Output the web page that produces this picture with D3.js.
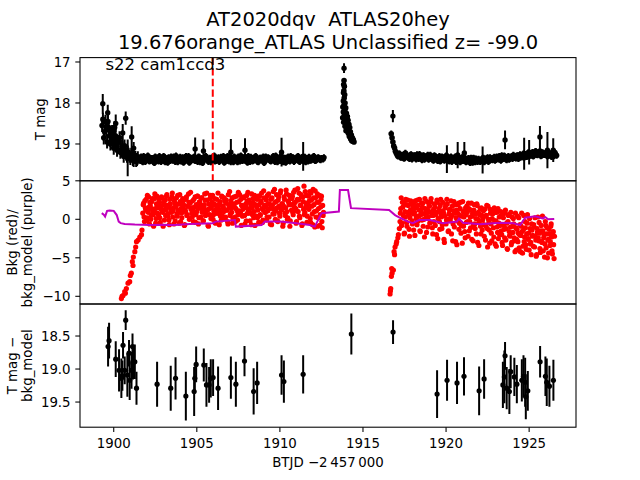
<!DOCTYPE html>
<html><head><meta charset="utf-8">
<script src="https://cdn.jsdelivr.net/npm/d3@7"></script>
<style>
body{margin:0;background:#fff;}
text{font-family:"DejaVu Sans",sans-serif;fill:#000;}
</style></head>
<body><svg id="chart" width="640" height="480"></svg>
<script>
// ---------------- DATA ----------------
const titleLines = ["AT2020dqv  ATLAS20hey", "19.676orange_ATLAS Unclassified z= -99.0"];
const sectorLabel = "s22 cam1ccd3";
const xLabel = "BTJD \u22122\u2009457\u2009000";
const xTicks = [1900, 1905, 1910, 1915, 1920, 1925];
const magTicks = [17, 18, 19];
const bkgTicks = [5, 0, -5, -10];
const diffTicks = [18.5, 19.0, 19.5];
const markerTime = 1905.96;

// T mag light curve, fixed cadence (two interleaved runs)
const tmagStep = 0.1;
const tmagSeg1Start = 1899.3;
const tmagSeg1 = [
 18.55,18.85,18.45,18.95,18.60,19.00,18.70,19.10,18.80,19.15,18.95,19.20,19.05,19.30,19.15,19.30,19.25,19.35,19.30,19.40,19.33,19.38,
 19.33,19.41,19.36,19.30,19.43,19.38,19.32,19.40,19.35,19.44,
 19.31,19.37,19.42,19.34,19.39,19.30,19.44,19.36,19.33,19.41,
 19.38,19.31,19.43,19.35,19.40,19.32,19.37,19.45,19.34,19.39,
 19.30,19.42,19.36,19.33,19.41,19.38,19.31,19.44,19.35,19.40,
 19.32,19.37,19.43,19.34,19.39,19.31,19.42,19.36,19.33,19.40,
 19.37,19.30,19.43,19.35,19.41,19.32,19.38,19.44,19.34,19.39,
 19.31,19.42,19.36,19.33,19.40,19.38,19.30,19.43,19.35,19.41,
 19.32,19.37,19.44,19.34,19.39,19.31,19.42,19.36,19.33,19.40,
 19.37,19.30,19.43,19.35,19.41,19.32,19.38,19.44,19.34,19.39,
 19.31,19.42,19.36,19.33,19.40,19.38,19.30,19.43,19.35,19.41,
 19.32,19.37,19.42,19.34,19.39,19.31,19.40,19.36,19.33,19.38,
 19.35,19.37];
const tmagSeg1bStart = 1899.35;
const tmagSeg1b = [
 18.40,18.70,18.65,18.45,18.80,18.75,18.90,18.60,19.00,18.95,18.85,19.15,19.10,19.05,19.25,19.20,19.30,19.25,19.38,19.32,19.40,19.34,
 19.36,19.31,19.44,19.38,19.33,19.29,19.42,19.35,19.40,19.46,
 19.34,19.39,19.30,19.43,19.37,19.32,19.41,19.45,19.36,19.31,
 19.40,19.35,19.29,19.44,19.38,19.42,19.33,19.36,19.30,19.41,
 19.45,19.34,19.39,19.31,19.37,19.43,19.32,19.38,19.46,19.35,
 19.30,19.40,19.36,19.44,19.33,19.29,19.41,19.37,19.43,19.32,
 19.39,19.45,19.34,19.30,19.42,19.36,19.40,19.31,19.38,19.44,
 19.35,19.29,19.41,19.37,19.33,19.45,19.39,19.32,19.42,19.36,
 19.30,19.43,19.38,19.34,19.40,19.46,19.31,19.37,19.35,19.42,
 19.39,19.33,19.29,19.44,19.36,19.41,19.32,19.38,19.45,19.34,
 19.40,19.30,19.37,19.43,19.35,19.31,19.42,19.39,19.33,19.36,
 19.44,19.38,19.32,19.40,19.35,19.30,19.41,19.37,19.34,19.39,
 19.36,19.33];
const tmagEarlyCount = 22;
const tmagErrEarly = 0.16;
const tmagErr = 0.08;
const tmagSeg2Start = 1916.7;
const tmagSeg2 = [
 18.75,18.95,19.10,19.22,
 19.30,19.24,19.33,19.27,19.35,19.25,19.31,19.36,19.26,19.32,
 19.28,19.37,19.30,19.25,19.34,19.29,19.38,19.31,19.27,19.36,
 19.32,19.39,19.28,19.35,19.41,19.30,19.37,19.33,19.40,19.29,
 19.36,19.42,19.31,19.38,19.34,19.43,19.32,19.39,19.35,19.41,
 19.33,19.44,19.37,19.40,19.34,19.45,19.38,19.36,19.43,19.39,
 19.42,19.35,19.44,19.37,19.33,19.41,19.36,19.39,19.32,19.38,
 19.34,19.30,19.40,19.35,19.29,19.37,19.33,19.38,19.31,19.36,
 19.30,19.35,19.28,19.34,19.31,19.27,19.33,19.25,19.30,19.22,
 19.28,19.20,19.25,19.18,19.27,19.22,19.29,19.21,19.26,19.23,
 19.30,19.24,19.28,19.22,19.29,19.26];
const tmagSeg2bStart = 1916.75;
const tmagSeg2b = [
 18.85,19.05,19.18,19.26,
 19.24,19.32,19.28,19.35,19.22,19.30,19.34,19.27,19.37,19.29,
 19.33,19.26,19.36,19.30,19.39,19.28,19.34,19.31,19.38,19.27,
 19.35,19.40,19.30,19.37,19.33,19.42,19.31,19.38,19.35,19.29,
 19.40,19.34,19.43,19.36,19.31,19.41,19.38,19.44,19.33,19.39,
 19.37,19.42,19.35,19.46,19.39,19.34,19.44,19.40,19.37,19.43,
 19.39,19.34,19.41,19.36,19.43,19.33,19.38,19.35,19.40,19.31,
 19.37,19.33,19.28,19.36,19.31,19.39,19.30,19.35,19.32,19.27,
 19.33,19.29,19.36,19.26,19.32,19.24,19.29,19.31,19.21,19.27,
 19.24,19.30,19.19,19.26,19.23,19.17,19.28,19.22,19.25,19.20,
 19.27,19.23,19.31,19.25,19.21,19.28];
// flare-like cluster near 1914 [time, mag]
const tmagFlare = [
 [1913.86,17.45],[1913.84,17.55],[1913.88,17.60],[1913.85,17.70],[1913.83,17.75],[1913.90,17.80],
 [1913.87,17.88],[1913.82,17.95],[1913.92,18.00],[1913.86,18.05],[1913.79,18.10],[1913.96,18.12],
 [1913.90,18.18],[1913.82,18.22],[1914.00,18.25],[1913.88,18.30],[1914.06,18.33],[1913.78,18.36],
 [1913.95,18.40],[1914.10,18.42],[1913.84,18.47],[1914.02,18.50],[1914.15,18.52],[1913.92,18.57],
 [1914.20,18.60],[1914.05,18.63],[1913.98,18.68],[1914.24,18.70],[1914.12,18.74],[1914.30,18.78],
 [1914.18,18.82],[1914.36,18.85],[1914.26,18.88],[1914.42,18.90],[1914.33,18.93],[1914.46,18.95]];
// points with visible error bars [time, mag, err]
const tmagOutliers = [
 [1899.34,18.02,0.24],[1899.64,18.24,0.20],[1900.12,18.50,0.22],[1900.54,18.73,0.22],[1900.72,18.37,0.16],
 [1900.84,19.34,0.45],[1901.08,18.83,0.26],[1901.20,19.10,0.15],[1904.90,19.12,0.28],[1905.40,19.17,0.28],
 [1907.05,19.20,0.32],[1907.90,19.15,0.29],[1910.10,19.20,0.35],[1911.40,19.30,0.35],[1913.86,17.15,0.12],
 [1916.80,18.32,0.15],[1920.05,19.37,0.34],[1920.70,19.27,0.32],[1921.10,19.22,0.27],[1922.20,19.39,0.33],
 [1923.55,18.90,0.23],[1924.70,19.24,0.39],[1925.00,19.20,0.30],[1925.65,18.83,0.27],[1926.10,19.15,0.44],
 [1926.45,19.15,0.29]];

// Background (red points)
const bkgRise1 = [
 [1900.46,-10.3],[1900.50,-10.0],[1900.56,-9.9],[1900.66,-9.4],[1900.70,-9.6],[1900.76,-9.0],[1900.86,-8.3],
 [1900.96,-8.1],[1901.00,-7.3],[1901.06,-7.0],[1901.12,-5.5],[1901.16,-6.0],[1901.18,-4.9],[1901.27,-4.2],
 [1901.32,-3.6],[1901.37,-2.9],[1901.47,-2.7],[1901.57,-2.3],[1901.67,-2.0],[1901.70,-1.4]];
const bkgStep = 0.05;
const bkgCloud1Start = 1901.75;
const bkgCloud1 = [
 0.8,2.1,-0.3,1.5,2.6,0.2,1.1,2.9,-0.6,1.8,0.5,2.3,1.0,-0.9,2.7,1.4,0.1,3.0,1.7,0.6,
 2.2,-0.4,1.3,2.8,0.9,1.9,-0.1,2.5,1.2,3.2,0.4,1.6,-0.7,2.0,1.0,2.9,0.3,1.5,2.4,-0.2,
 1.8,0.7,3.1,1.1,-0.5,2.3,1.4,0.2,2.7,1.9,-0.8,1.2,2.6,0.5,1.7,3.3,0.0,2.1,1.3,0.8,
 2.4,-0.3,1.6,2.9,0.6,1.0,3.0,-0.6,2.2,1.5,0.3,2.8,1.1,-0.2,1.9,2.5,0.9,3.4,1.2,-0.9,
 1.4,2.7,0.1,1.8,3.1,0.6,2.0,-0.4,1.3,2.6,0.8,1.7,-0.7,2.3,1.0,3.0,0.4,1.5,2.8,0.2,
 2.1,1.2,-0.3,3.2,1.6,0.5,2.4,0.9,-0.5,1.9,2.9,0.3,1.4,2.2,-0.1,3.5,1.1,0.7,2.6,1.8,
 0.4,2.8,1.5,-0.6,2.0,3.1,0.8,1.3,2.5,-0.2,1.7,3.3,0.6,2.1,1.0,-0.8,2.7,1.6,0.2,3.0,
 1.9,0.5,2.4,3.4,-0.4,1.2,2.8,0.9,1.6,-0.1,3.1,2.0,0.3,1.4,2.6,-0.7,1.8,3.6,0.7,2.2,
 1.1,3.2,-0.2,2.5,1.7,0.4,3.7,1.3,2.0,-0.5,2.9,0.8,1.5,3.3,0.0,2.3,1.9,-0.9,2.7,1.2,
 3.0,0.6,2.1,3.8,1.4,-0.3,2.6,1.0,3.4,0.2,1.8,2.9,-0.6,2.3,4.3,0.9,1.6,3.1,0.4,2.0,
 1.3,3.6,-0.4,2.5,0.7,3.9,1.9,-1.0,2.8,1.1,3.3,0.2,2.2,-0.8,1.6,3.0,-1.1,0.5];
const bkgCloud1bStart = 1901.775;
const bkgCloud1b = [
 1.9,0.3,2.4,1.2,-0.2,3.1,0.9,1.6,2.2,0.0,1.4,2.7,0.6,1.1,3.3,-0.5,2.0,0.8,1.5,2.5,
 0.2,1.7,2.9,1.0,-0.9,2.3,1.3,0.5,3.0,1.8,0.7,-0.1,2.6,1.4,0.9,3.4,1.1,-0.6,2.1,1.6,
 2.8,0.4,1.2,2.0,3.2,-0.3,0.8,1.9,2.4,1.3,-0.7,1.0,2.9,0.6,1.7,2.2,0.1,3.5,1.5,0.3,
 1.1,2.6,0.7,-0.4,1.9,3.0,1.4,0.2,2.3,1.8,2.8,0.9,-0.2,1.6,3.3,0.5,1.2,2.5,-0.8,2.0,
 0.6,3.1,1.5,2.2,0.0,1.1,2.7,-0.5,1.8,0.8,3.4,1.3,2.1,0.4,-0.1,2.9,1.7,1.0,2.4,0.3,
 2.5,1.2,-0.6,1.9,3.6,0.7,1.4,2.8,0.1,2.0,1.6,-0.3,3.0,1.1,0.6,2.3,3.2,0.9,-0.8,1.8,
 1.3,2.9,0.5,1.7,-0.2,2.4,3.5,0.8,1.0,2.1,-0.7,1.5,2.7,0.2,3.1,1.9,0.4,2.6,1.2,-0.4,
 3.0,0.6,2.2,1.4,-0.1,3.7,1.8,0.9,2.5,0.3,1.1,3.3,2.0,-0.6,1.6,2.8,0.7,1.3,3.9,0.0,
 2.3,1.5,-0.3,2.9,0.8,3.4,1.2,2.0,-0.9,1.7,2.6,0.5,3.8,1.0,0.2,2.4,3.1,-0.2,1.9,2.7,
 0.9,3.5,1.6,2.2,-0.5,1.1,4.0,2.5,0.4,1.8,3.2,-0.8,2.9,1.3,0.6,3.6,2.1,-0.4,1.5,3.0,
 2.4,0.1,3.4,1.7,-0.7,2.8,1.0,3.7,0.3,2.2,-0.9,1.4,3.1,0.6,2.6,-0.3,1.8,0.9];
const bkgRise2 = [
 [1916.63,-9.7],[1916.65,-9.3],[1916.67,-9.0],[1916.71,-7.4],[1916.73,-6.4],[1916.75,-7.0],[1916.83,-6.6],
 [1916.87,-4.2],[1916.90,-4.6],[1916.93,-3.6],[1917.00,-3.2],[1917.03,-2.9],[1917.10,-2.4],[1917.13,-2.0],
 [1917.19,-1.2],[1917.23,-0.3]];
const bkgCloud2Start = 1917.25;
const bkgCloud2 = [
 0.8,2.8,-0.5,1.6,2.2,-1.8,0.3,1.9,-0.9,2.5,0.6,-2.2,1.2,2.0,-0.2,1.5,-1.4,0.9,2.4,0.1,
 -0.7,1.8,0.4,2.6,-1.6,1.1,-0.1,2.1,0.7,-2.3,1.4,0.2,2.3,-1.0,0.9,1.7,-0.4,2.7,0.5,-1.9,
 1.3,2.0,-0.8,0.6,2.5,-2.5,1.0,-0.3,1.8,0.3,-1.2,2.2,0.8,-3.0,1.5,-0.6,2.6,0.0,-1.5,1.2,
 -0.2,2.4,0.5,-2.8,1.1,-1.0,1.9,0.2,-3.3,0.8,2.1,-0.5,1.4,-1.8,0.4,2.3,-0.9,1.0,-2.4,0.6,
 1.7,-0.3,2.1,-1.5,0.3,1.2,-2.6,0.8,-0.7,1.9,-1.2,0.1,2.0,-3.0,0.9,-0.4,1.4,-1.9,0.5,-0.1,
 1.1,-2.2,0.4,-0.9,1.8,-3.6,0.0,-1.4,1.3,-0.6,-2.8,0.7,-1.1,1.5,-3.2,-0.2,0.9,-1.7,-2.5,0.3,
 -0.8,1.0,-2.0,-3.4,0.2,-1.3,0.8,-2.7,-0.5,-3.9,0.5,-1.6,-2.2,0.9,-3.0,-0.9,0.1,-2.4,-4.2,-1.1,
 -2.6,0.4,-1.8,-3.7,-0.7,-2.1,0.8,-4.4,-1.4,-2.9,-0.3,-3.3,-1.9,0.6,-2.5,-4.0,-1.2,-3.0,-0.6,-2.2,
 -3.5,-1.0,0.2,-2.7,-4.6,-1.7,-2.4,-0.4,-3.8,-1.5,-2.9,0.4,-4.1,-2.0,-3.2,-0.8,-1.9,-5.0,-2.6,-1.3,
 -3.4,-0.9,-2.3,-4.5,-1.6,-5.1];
const bkgCloud2bStart = 1917.275;
const bkgCloud2b = [
 1.4,-0.8,2.2,0.5,-1.9,1.0,2.6,-0.4,0.9,1.8,-1.3,0.2,2.4,1.1,-0.6,0.7,2.0,-2.1,1.5,0.4,
 2.5,-0.2,1.2,-1.5,0.6,2.1,1.6,-0.9,0.0,2.7,0.8,-1.7,1.3,0.3,1.9,-0.5,2.3,1.0,-1.1,0.5,
 -0.3,1.6,0.9,-2.0,2.2,0.1,1.4,-1.3,2.6,0.6,-0.7,1.1,-2.6,0.4,1.8,-0.1,2.0,-1.6,0.7,1.3,
 0.2,-1.9,1.7,-0.6,2.3,0.8,-2.9,1.2,-0.2,1.9,-1.3,0.5,2.2,-0.8,-3.1,1.0,0.3,-1.6,1.5,-0.4,
 0.9,-2.2,1.4,-0.3,-1.1,2.1,0.4,-2.8,1.2,-0.6,0.7,-1.9,1.8,0.0,-3.4,0.6,-0.9,1.5,-1.4,0.2,
 -0.7,1.3,-2.7,0.5,-1.2,1.7,-0.4,-3.1,0.8,-1.8,0.1,1.1,-2.3,-0.2,0.9,-3.5,-1.0,1.4,-0.5,-2.0,
 0.4,-1.5,-3.0,0.7,-0.8,-2.4,1.2,-1.2,-3.8,-0.3,0.6,-2.1,-1.0,-3.3,0.3,-1.7,-0.6,-2.8,0.8,-4.0,
 -1.3,-2.9,0.2,-2.0,-4.2,-0.9,-1.6,-3.5,0.5,-2.3,-1.1,-3.9,-0.5,-2.6,-1.8,0.1,-3.2,-4.6,-1.4,-2.1,
 -0.7,-3.6,-2.2,-4.8,-1.2,0.3,-2.8,-1.8,-4.3,-0.8,-3.0,-1.5,-2.4,-4.9,-0.3,-3.7,-1.1,-2.7,-4.4,-1.9,
 -2.9,-0.6,-4.1,-1.7,-3.3,-2.2];
// Background model (purple line) [time, value]
const bkgModel = [
 [1899.28,0.8],[1899.40,0.6],[1899.48,0.35],[1899.60,1.1],[1899.76,1.15],[1900.00,1.1],[1900.18,0.55],
 [1900.30,-0.3],[1900.42,-0.5],[1900.66,-0.6],[1901.27,-0.68],[1902.17,-0.75],[1902.95,-0.7],[1903.67,-0.75],
 [1904.58,-0.6],[1905.96,-0.5],[1906.14,-0.3],[1907.29,-0.1],[1907.35,-0.95],[1908.90,-0.75],[1909.10,-0.3],
 [1910.00,-0.3],[1911.00,-0.5],[1911.80,-0.75],[1912.10,-0.95],[1912.40,0.35],[1912.51,0.8],[1913.55,1.0],
 [1913.61,3.8],[1914.10,3.8],[1914.28,1.45],[1916.57,1.2],[1916.93,0.55],[1917.23,0.2],[1917.70,-0.3],
 [1918.00,-0.5],[1918.37,-0.1],[1919.04,-0.1],[1919.82,-0.5],[1920.66,-0.3],[1920.78,0.1],[1921.02,-0.45],
 [1922.05,-0.65],[1923.25,-0.45],[1924.04,-0.5],[1924.46,-0.75],[1924.76,0.2],[1925.36,0.4],[1925.84,0.1],
 [1925.96,0.3],[1926.14,0.0],[1926.51,0.05]];

// T mag - bkg_model [time, value, err]
const diffPoints = [
 [1899.66,18.66,0.30],[1899.72,18.57,0.27],[1900.12,18.85,0.27],[1900.32,19.02,0.32],[1900.46,19.14,0.30],
 [1900.56,18.64,0.20],[1900.52,19.10,0.23],[1900.72,18.26,0.15],[1900.66,19.02,0.21],[1900.82,19.09,0.33],
 [1900.92,18.76,0.20],[1900.96,19.17,0.30],[1901.07,19.02,0.28],[1901.13,18.66,0.20],[1901.16,18.91,0.25],
 [1901.27,18.89,0.26],[1901.37,19.29,0.25],[1902.61,19.23,0.34],[1903.43,19.29,0.34],[1903.72,19.14,0.32],
 [1904.34,19.41,0.37],[1904.84,19.34,0.37],[1904.88,19.14,0.18],[1904.96,18.93,0.27],[1905.42,18.94,0.25],
 [1905.58,19.24,0.33],[1905.74,19.24,0.27],[1905.84,19.14,0.29],[1905.98,19.13,0.28],[1906.28,19.29,0.33],
 [1907.05,19.13,0.32],[1907.35,19.23,0.34],[1907.87,18.88,0.23],[1908.42,19.34,0.35],[1908.63,19.21,0.32],
 [1910.10,19.09,0.30],[1910.24,19.19,0.32],[1911.40,19.08,0.29],
 [1914.30,18.47,0.31],[1916.81,18.44,0.18],[1919.46,19.38,0.36],[1920.06,19.17,0.31],[1920.66,19.21,0.32],
 [1921.08,19.11,0.29],[1921.99,19.33,0.37],[1922.29,19.15,0.30],[1923.42,19.24,0.35],[1923.55,18.80,0.21],
 [1923.51,19.12,0.40],[1923.65,19.29,0.32],[1923.81,19.34,0.34],[1923.89,19.04,0.25],[1924.11,19.12,0.29],
 [1924.26,19.23,0.29],[1924.56,19.17,0.32],[1924.66,19.11,0.32],[1924.76,19.20,0.37],[1924.80,19.42,0.34],
 [1924.92,19.33,0.30],[1925.66,18.89,0.24],[1925.98,19.11,0.30],[1926.06,19.20,0.36],[1926.22,19.26,0.31],
 [1926.46,19.17,0.31]];

// ---------------- DRAWING ----------------
const svg = d3.select("#chart");
const L = 80, R = 576, T0 = 57.6, PH = 123.2;
const tops = [T0, T0 + PH, T0 + 2 * PH];
const x = d3.scaleLinear().domain([1897.97, 1927.82]).range([L, R]);
const yMag = d3.scaleLinear().domain([16.893, 19.898]).range([tops[0], tops[0] + PH]);
const yBkg = d3.scaleLinear().domain([5.0, -11.0]).range([tops[1], tops[1] + PH]);
const yDiff = d3.scaleLinear().domain([18.015, 19.881]).range([tops[2], tops[2] + PH]);

const defs = svg.append("defs");
tops.forEach((t, i) => {
  defs.append("clipPath").attr("id", "clip" + i)
    .append("rect").attr("x", L).attr("y", t).attr("width", R - L).attr("height", PH);
});

const regular = (start, step, vals) => vals.map((v, i) => [start + i * step, v]);
function errPoints(g, pts, y, r, color) {
  g.selectAll(null).data(pts).enter().append("line")
    .attr("x1", d => x(d[0])).attr("x2", d => x(d[0]))
    .attr("y1", d => y(d[1] - d[2])).attr("y2", d => y(d[1] + d[2]))
    .attr("stroke", color).attr("stroke-width", 2);
  g.selectAll(null).data(pts).enter().append("circle")
    .attr("cx", d => x(d[0])).attr("cy", d => y(d[1])).attr("r", r).attr("fill", color);
}

// ---- Panel 1: T mag
const g1 = svg.append("g").attr("clip-path", "url(#clip0)");
const withErr = (pts) => pts.map((d, i) => [d[0], d[1], i < tmagEarlyCount ? tmagErrEarly : tmagErr]);
const band = withErr(regular(tmagSeg1Start, tmagStep, tmagSeg1))
  .concat(withErr(regular(tmagSeg1bStart, tmagStep, tmagSeg1b)))
  .concat(regular(tmagSeg2Start, tmagStep, tmagSeg2).map(d => [d[0], d[1], tmagErr]))
  .concat(regular(tmagSeg2bStart, tmagStep, tmagSeg2b).map(d => [d[0], d[1], tmagErr]))
  .concat(tmagFlare.map(d => [d[0], d[1], 0.05]));
errPoints(g1, band, yMag, 2.8, "#000");
errPoints(g1, tmagOutliers, yMag, 2.7, "#000");
g1.append("line").attr("x1", x(markerTime)).attr("x2", x(markerTime))
  .attr("y1", tops[0]).attr("y2", tops[0] + PH)
  .attr("stroke", "#ff0000").attr("stroke-width", 2).attr("stroke-dasharray", "7.4,3.2");

// ---- Panel 2: background
const g2 = svg.append("g").attr("clip-path", "url(#clip1)");
const bkgPts = bkgRise1.concat(regular(bkgCloud1Start, bkgStep, bkgCloud1))
  .concat(regular(bkgCloud1bStart, bkgStep, bkgCloud1b))
  .concat(bkgRise2).concat(regular(bkgCloud2Start, bkgStep, bkgCloud2))
  .concat(regular(bkgCloud2bStart, bkgStep, bkgCloud2b));
g2.selectAll(null).data(bkgPts).enter().append("circle")
  .attr("cx", d => x(d[0])).attr("cy", d => yBkg(d[1])).attr("r", 2.6).attr("fill", "#ff0000");
g2.append("path").datum(bkgModel)
  .attr("d", d3.line().x(d => x(d[0])).y(d => yBkg(d[1])))
  .attr("fill", "none").attr("stroke", "#bf00bf").attr("stroke-width", 2);

// ---- Panel 3: difference
const g3 = svg.append("g").attr("clip-path", "url(#clip2)");
errPoints(g3, diffPoints, yDiff, 2.6, "#000");

// ---- axes frames and ticks
tops.forEach(t => {
  svg.append("rect").attr("x", L).attr("y", t).attr("width", R - L).attr("height", PH)
    .attr("fill", "none").attr("stroke", "#000").attr("stroke-width", 1.07);
});
function yAxis(scale, ticks, fmt) {
  const g = svg.append("g");
  ticks.forEach(v => {
    const yy = scale(v);
    g.append("line").attr("x1", L - 4.7).attr("x2", L).attr("y1", yy).attr("y2", yy)
      .attr("stroke", "#000").attr("stroke-width", 1.07);
    g.append("text").attr("x", L - 9.4).attr("y", yy + 4.9).attr("text-anchor", "end")
      .attr("font-size", "13.33px").text(fmt(v));
  });
}
const minus = s => s.replace("-", "\u2212");
yAxis(yMag, magTicks, v => String(v));
yAxis(yBkg, bkgTicks, v => minus(String(v)));
yAxis(yDiff, diffTicks, v => v.toFixed(1));

const yB = tops[2] + PH;
xTicks.forEach(v => {
  svg.append("line").attr("x1", x(v)).attr("x2", x(v)).attr("y1", yB).attr("y2", yB + 4.7)
    .attr("stroke", "#000").attr("stroke-width", 1.07);
  svg.append("text").attr("x", x(v)).attr("y", 448.2).attr("text-anchor", "middle")
    .attr("font-size", "13.33px").text(v);
});
svg.append("text").attr("x", (L + R) / 2).attr("y", 466.5).attr("text-anchor", "middle")
  .attr("font-size", "13.33px").text(xLabel);

function yLabel(lines, xs, cy) {
  lines.forEach((s, i) => {
    svg.append("text").attr("transform", `translate(${xs[i]},${cy}) rotate(-90)`)
      .attr("text-anchor", "middle").attr("font-size", "13.33px").text(s);
  });
}
yLabel(["T mag"], [45], tops[0] + PH / 2);
yLabel(["Bkg (red)/", "bkg_model (purple)"], [16.5, 32], tops[1] + PH / 2);
yLabel(["T mag \u2212", "bkg_model"], [16.5, 32], tops[2] + PH / 2);

titleLines.forEach((s, i) => {
  svg.append("text").attr("x", (L + R) / 2).attr("y", 26.3 + i * 22.7).attr("text-anchor", "middle")
    .attr("font-size", "19.5px").attr("xml:space", "preserve").style("white-space", "pre").text(s);
});
svg.append("text").attr("x", 105.5).attr("y", 70).attr("font-size", "16.5px").text(sectorLabel);
</script>
</body></html>
